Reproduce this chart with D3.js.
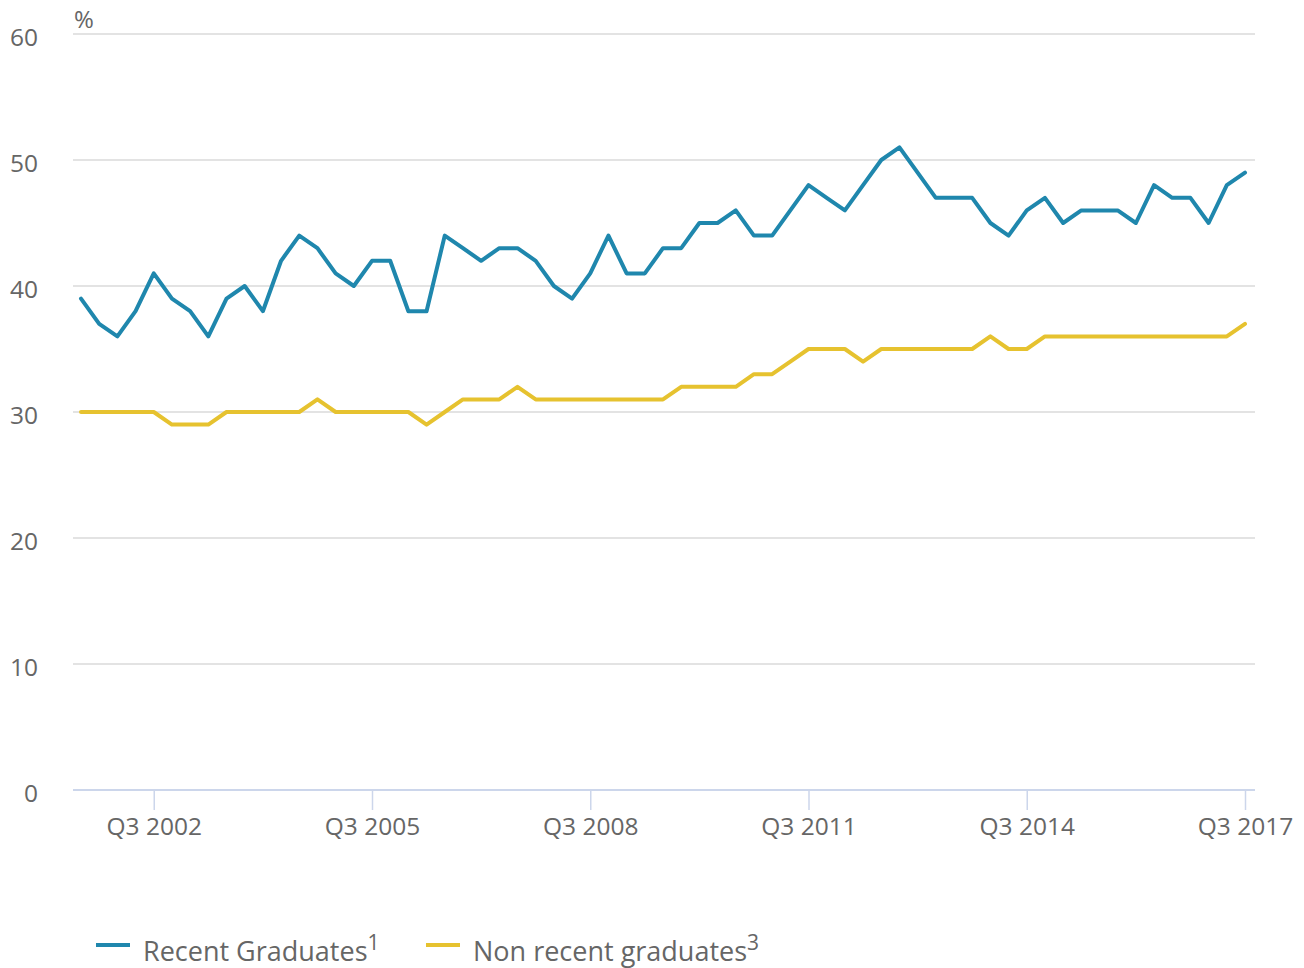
<!DOCTYPE html>
<html>
<head>
<meta charset="utf-8">
<script src="https://cdn.jsdelivr.net/npm/d3@7"></script>
<style>
  body { margin: 0; background: #fff; }
  text { font-family: "Open Sans", sans-serif; fill: #666; }
</style>
</head>
<body>
<div id="chart"></div>
<script>
// quarterly series, Q3 2001 .. Q3 2017
var quarters = [];
for (var y = 2001; y <= 2017; y++) {
    ["Q1", "Q2", "Q3", "Q4"].forEach(function (q) {
        var lab = q + " " + y;
        if (y === 2001 && (q === "Q1" || q === "Q2")) return;
        if (y === 2017 && q === "Q4") return;
        quarters.push(lab);
    });
}

var recentGrads = [39, 37, 36, 38, 41, 39, 38, 36, 39, 40, 38, 42, 44, 43, 41, 40,
    42, 42, 38, 38, 44, 43, 42, 43, 43, 42, 40, 39, 41, 44, 41, 41,
    43, 43, 45, 45, 46, 44, 44, 46, 48, 47, 46, 48, 50, 51, 49, 47,
    47, 47, 45, 44, 46, 47, 45, 46, 46, 46, 45, 48, 47, 47, 45, 48, 49];

var nonRecentGrads = [30, 30, 30, 30, 30, 29, 29, 29, 30, 30, 30, 30, 30, 31, 30, 30,
    30, 30, 30, 29, 30, 31, 31, 31, 32, 31, 31, 31, 31, 31, 31, 31,
    31, 32, 32, 32, 32, 33, 33, 34, 35, 35, 35, 34, 35, 35, 35, 35,
    35, 35, 36, 35, 35, 36, 36, 36, 36, 36, 36, 36, 36, 36, 36, 36, 37];

var tickLabels = ["Q3 2002", "Q3 2005", "Q3 2008", "Q3 2011", "Q3 2014", "Q3 2017"];
var yTicks = [0, 10, 20, 30, 40, 50, 60];

var seriesNames = ["Recent Graduates", "Non recent graduates"];
var seriesNotes = ["1", "3"];
var colors = ["#1f87ad", "#e6c22f"];

var svgWidth = 1304;
var svgHeight = 968;

var svg = d3.select("#chart")
    .append("svg")
    .attr("width", svgWidth)
    .attr("height", svgHeight);

var xScale = d3.scaleLinear()
    .domain([0, quarters.length - 1])
    .range([81, 1245]);

var yScale = d3.scaleLinear()
    .domain([0, 60])
    .range([790, 34]);

var plotLeft = 73, plotRight = 1255;

// gridlines
svg.append("g")
    .selectAll("line")
    .data(yTicks.filter(d => d > 0))
    .enter()
    .append("line")
    .attr("x1", plotLeft)
    .attr("x2", plotRight)
    .attr("y1", d => yScale(d))
    .attr("y2", d => yScale(d))
    .attr("stroke", "#e3e3e3")
    .attr("stroke-width", 2);

// y labels
svg.append("g")
    .selectAll("text")
    .data(yTicks)
    .enter()
    .append("text")
    .attr("x", 38)
    .attr("y", d => yScale(d) + 12)
    .attr("text-anchor", "end")
    .style("font-size", "24.5px")
    .text(d => d);

svg.append("text")
    .attr("x", 74)
    .attr("y", 28)
    .style("font-size", "24px")
    .text("%");

// x axis
var tickIdx = tickLabels.map(t => quarters.indexOf(t));
var xAxis = d3.axisBottom(xScale)
    .tickValues(tickIdx)
    .tickFormat(d => quarters[d])
    .tickSize(20)
    .tickSizeOuter(0);

var xAxisG = svg.append("g")
    .attr("transform", "translate(0, 790)")
    .call(xAxis);

xAxisG.select(".domain").remove();
xAxisG.insert("line", ":first-child")
    .attr("x1", plotLeft)
    .attr("x2", plotRight)
    .attr("stroke", "#ccd6eb")
    .attr("stroke-width", 2);
xAxisG.selectAll(".tick line")
    .attr("stroke", "#ccd6eb")
    .attr("stroke-width", 1.5);
xAxisG.selectAll(".tick text")
    .attr("y", 28)
    .attr("dy", "0.71em")
    .style("font-size", "24.5px")
    .style("font-family", "'Open Sans', sans-serif")
    .attr("fill", "#666");

// lines
var line = d3.line()
    .x((d, i) => xScale(i))
    .y(d => yScale(d));

[nonRecentGrads, recentGrads].forEach(function (vals, k) {
    svg.append("path")
        .datum(vals)
        .attr("d", line)
        .attr("fill", "none")
        .attr("stroke", k === 0 ? colors[1] : colors[0])
        .attr("stroke-width", 4)
        .attr("stroke-linejoin", "round")
        .attr("stroke-linecap", "round");
});

// legend
var legendX = [96, 426];
seriesNames.forEach(function (name, i) {
    var g = svg.append("g").attr("transform", `translate(${legendX[i]}, 945)`);
    g.append("line")
        .attr("x1", 0)
        .attr("x2", 34)
        .attr("stroke", colors[i])
        .attr("stroke-width", 4);
    var t = g.append("text")
        .attr("x", 47)
        .attr("y", 16)
        .style("font-size", "27px");
    t.append("tspan").text(name);
    t.append("tspan")
        .attr("dy", -11)
        .style("font-size", "21px")
        .text(seriesNotes[i]);
});
</script>
</body>
</html>
